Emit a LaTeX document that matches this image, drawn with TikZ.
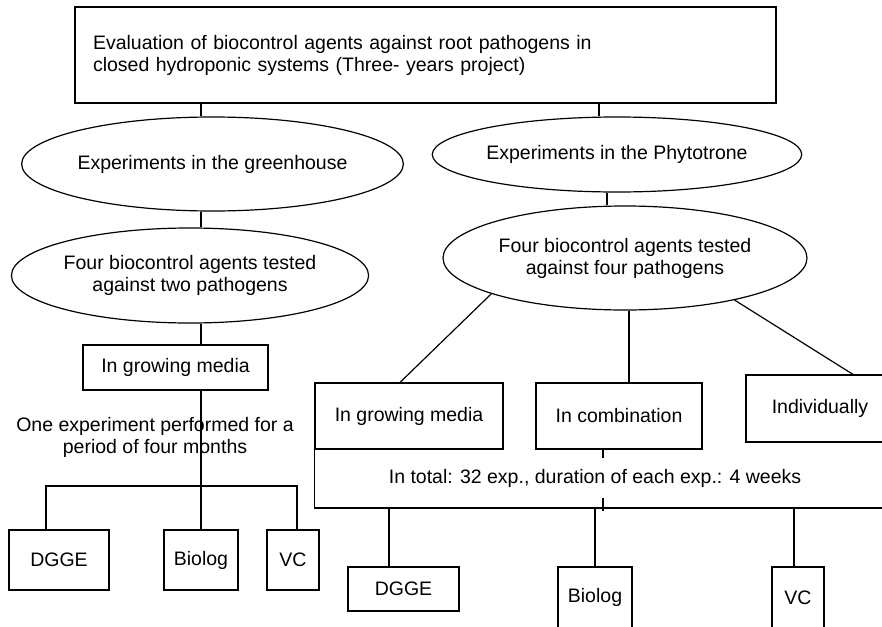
\documentclass[tikz,border=0pt]{standalone}
\usepackage{fontspec}
\setmainfont{Liberation Sans}
\usetikzlibrary{shapes.geometric}

\tikzset{
  every node/.style={font=\fontsize{19.5}{22}\selectfont},
  box/.style={draw, line width=1.2pt, inner sep=0pt, align=center},
  oval/.style={draw, ellipse, line width=1.2pt, inner sep=0pt, align=center},
}

\begin{document}
\begin{tikzpicture}[x=1pt, y=-1pt, line width=1.2pt]
  \useasboundingbox (0,0) rectangle (882,626);
  \clip (0,0) rectangle (882,626);

  \node[box, minimum width=701pt, minimum height=96pt, text width=665pt,
        inner xsep=18pt, align=left] (title) at (425.5,55)
    {Evaluation of biocontrol agents against root pathogens in\\closed hydroponic systems (Three- years project)};

  % greenhouse
  \node[oval, minimum width=349pt, minimum height=94pt] (green) at (212.5,164) {Experiments in the greenhouse};
  \node[oval, minimum width=348pt, minimum height=95pt] (twopath) at (190,275.5)
    {Four biocontrol agents tested\\against two pathogens};
  \node[box, minimum width=185pt, minimum height=45pt] (media1) at (175.5,367.5) {In growing media};
  \node[align=center] (onexp) at (155,437) {One experiment performed for a\\period of four months};
  \node[box, minimum width=100pt, minimum height=60pt] (dgge1) at (59,560) {DGGE};
  \node[box, minimum width=74pt, minimum height=60pt] (biolog1) at (201,560) {Biolog};
  \node[box, minimum width=52pt, minimum height=60pt] (vc1) at (293,560) {VC};

  % phytotrone
  \node[oval, minimum width=348pt, minimum height=75pt] (phyto) at (617,154.5) {Experiments in the Phytotrone};
  \node[oval, minimum width=364pt, minimum height=104pt] (fourpath) at (625,258)
    {Four biocontrol agents tested\\against four pathogens};
  \node[box, minimum width=188pt, minimum height=66pt] (media2) at (409,416) {In growing media};
  \node[box, minimum width=166pt, minimum height=66pt] (comb) at (619,416) {In combination};
  \node[box, minimum width=148pt, minimum height=67pt] (indiv) at (820,408.5) {Individually};

  \coordinate (frameSE) at (900,508);
  \draw (media2.south west) |- (frameSE);
  \draw ([xshift=-16pt]comb.south) -- ++(0,61);
  \node[fill=white, minimum height=40pt, inner xsep=2pt] (total) at (595,478)
    {In total: 32 exp., duration of each exp.: 4 weeks};

  \node[box, minimum width=111pt, minimum height=44pt] (dgge2) at (403.5,589) {DGGE};
  \node[box, minimum width=74pt, minimum height=61pt] (biolog2) at (595,597.5) {Biolog};
  \node[box, minimum width=52pt, minimum height=61pt] (vc2) at (798,597.5) {VC};

  % left branch
  \draw (title.south -| biolog1) -- (green.north -| biolog1);
  \draw (green.south -| biolog1) -- (twopath.north -| biolog1);
  \draw (twopath.south -| biolog1) -- (media1.north -| biolog1);
  \draw (media1.south -| biolog1) -- (biolog1.north);
  \coordinate (bar) at (201,486);
  \draw ([xshift=-13pt]dgge1.north) |- (bar) -| ([xshift=4pt]vc1.north);

  % right branch
  \draw ([xshift=-18pt]phyto.north |- title.south) -- ([xshift=-18pt]phyto.north);
  \draw ([xshift=-10pt]phyto.south) -- ([xshift=-10pt]phyto.south |- fourpath.north);
  \draw (fourpath.195) -- ([xshift=-9pt]media2.north);
  \draw ([xshift=10pt]comb.north |- fourpath.south) -- ([xshift=10pt]comb.north);
  \draw (fourpath.339) -- ([xshift=33pt]indiv.north);

  \draw ([xshift=-14.5pt]dgge2.north) -- ([xshift=-14.5pt]dgge2.north |- frameSE);
  \draw (biolog2.north) -- (biolog2.north |- frameSE);
  \draw ([xshift=-4pt]vc2.north) -- ([xshift=-4pt]vc2.north |- frameSE);
\end{tikzpicture}
\end{document}
